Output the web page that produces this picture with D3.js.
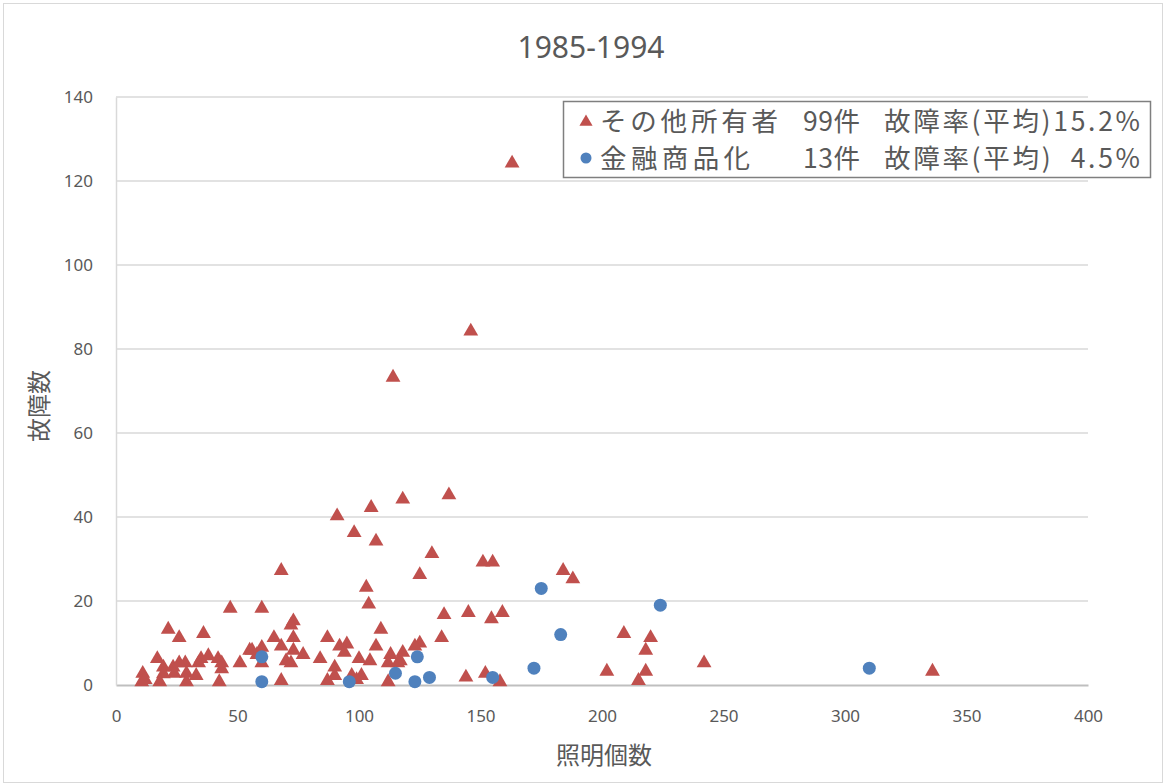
<!DOCTYPE html>
<html>
<head>
<meta charset="utf-8">
<script src="https://cdn.jsdelivr.net/npm/d3@7"></script>
<style>
  body { margin: 0; background: #fff; }
  svg { display: block; font-family: "Noto Sans CJK JP", "Noto Sans", sans-serif; }
</style>
</head>
<body>
<svg id="chart" width="1163" height="783"></svg>
<script>
// その他所有者: [照明個数, 故障数]
const otherOwners = [
  [163, 124], [146, 84], [114, 73], [137, 45], [118, 44], [105, 42], [91, 40], [98, 36],
  [107, 34], [130, 31], [151, 29], [155, 29], [125, 26], [184, 27], [188, 25], [68, 27],
  [103, 23], [104, 19], [47, 18], [60, 18], [145, 17], [135, 16.5], [159, 17], [154.5, 15.5],
  [73, 15], [72, 14], [21.5, 13], [109, 13], [26, 11], [36, 12], [65, 11], [73, 11],
  [87, 11], [134, 11], [209, 12], [220, 11], [95, 9.5], [125, 9.7], [92, 9], [68, 9],
  [107, 9], [123, 9], [94, 7.5], [73, 8], [55, 8], [118, 7.5], [218, 8], [58, 7],
  [77, 7], [113, 7], [84, 6], [70, 5.5], [17, 6], [42, 6], [35, 6], [104.5, 5.5],
  [117, 5.5], [72, 5], [28.5, 5], [34, 5], [43.5, 5], [51, 5], [112, 5], [116, 5],
  [242, 5], [19.5, 4], [23.5, 4], [43.5, 3.6], [90, 4], [38, 6.7], [11, 2.5], [24, 2.5],
  [29, 2.5], [152, 2.5], [202, 3], [218, 3], [336, 3], [33, 2], [90, 2], [19.5, 2.4],
  [97, 2], [101, 2], [144, 1.6], [10.6, 0.5], [18, 0.5], [29, 0.5], [42.5, 0.5], [68, 0.8],
  [87, 0.8], [99, 1], [112, 0.5], [158, 0.5], [215, 0.8], [60, 8.7], [56, 8], [100, 6],
  [60, 5], [26, 5], [12, 1]
]
// 金融商品化: [照明個数, 故障数]
const financial = [
  [60, 6.7], [60, 0.8], [96, 0.8], [115, 2.8], [123, 0.8], [124, 6.7], [129, 1.8],
  [155, 1.8], [172, 4], [175, 23], [183, 12], [224, 19], [310, 4]
]
const xTicks = [0, 50, 100, 150, 200, 250, 300, 350, 400]
const yTicks = [0, 20, 40, 60, 80, 100, 120, 140]
const legendRows = [
  ['その他所有者', '99件', '故障率(平均)15.2%'],
  ['金融商品化', '13件', '故障率(平均)  4.5%']
]

const w = 1163
const h = 783
const padLeft = 116
const padRight = 1088
const padTop = 97
const padBottom = 685
const red = '#C0504D'
const blue = '#4F81BD'
const textColor = '#595959'

const svg = d3.select('#chart')

// outer chart border
svg.append('rect')
  .attr('x', 3.5).attr('y', 3.5)
  .attr('width', w - 4).attr('height', h - 4)
  .attr('fill', 'none')
  .attr('stroke', '#D9D9D9')

const xScale = d3.scaleLinear().domain([0, 400]).range([padLeft, padRight])
const yScale = d3.scaleLinear().domain([0, 140]).range([padBottom, padTop])

// gridlines
svg.append('g')
  .selectAll('line')
  .data(yTicks.filter(t => t > 0))
  .enter()
  .append('line')
  .attr('x1', padLeft).attr('x2', padRight)
  .attr('y1', d => yScale(d)).attr('y2', d => yScale(d))
  .attr('stroke', '#D9D9D9')
  .attr('stroke-width', 1.5)

// axes
const xAxis = d3.axisBottom(xScale).tickValues(xTicks).tickSize(0).tickPadding(25)
const gx = svg.append('g')
  .attr('transform', 'translate(0,' + padBottom + ')')
  .call(xAxis)
gx.select('.domain').attr('stroke', '#BFBFBF').attr('stroke-width', 2)
gx.selectAll('text').attr('fill', textColor).style('font-size', '17px')
  .style('font-family', '"Noto Sans", sans-serif')

const yAxis = d3.axisLeft(yScale).tickValues(yTicks).tickSize(0).tickPadding(23)
const gy = svg.append('g')
  .attr('transform', 'translate(' + padLeft + ',0)')
  .call(yAxis)
gy.select('.domain').attr('stroke', '#D9D9D9').attr('stroke-width', 1.5)
gy.selectAll('text').attr('fill', textColor).style('font-size', '17px')
  .style('font-family', '"Noto Sans", sans-serif')

// marks
const tri = d3.symbol().type(d3.symbolTriangle).size(95)
svg.append('g')
  .selectAll('path')
  .data(otherOwners)
  .enter()
  .append('path')
  .attr('d', tri)
  .attr('transform', d => 'translate(' + xScale(d[0]) + ',' + (yScale(d[1]) - 1) + ')')
  .attr('fill', red)

svg.append('g')
  .selectAll('circle')
  .data(financial)
  .enter()
  .append('circle')
  .attr('cx', d => xScale(d[0]))
  .attr('cy', d => yScale(d[1]))
  .attr('r', 6.5)
  .attr('fill', blue)

// title & axis labels
svg.append('text')
  .attr('x', 591).attr('y', 58)
  .attr('text-anchor', 'middle')
  .attr('fill', textColor)
  .style('font-size', '30px')
  .style('font-family', '"Noto Sans", sans-serif')
  .text('1985-1994')

svg.append('text')
  .attr('x', 604).attr('y', 764)
  .attr('text-anchor', 'middle')
  .attr('fill', textColor)
  .style('font-size', '24px')
  .text('照明個数')

svg.append('text')
  .attr('transform', 'translate(48,406) rotate(-90)')
  .attr('text-anchor', 'middle')
  .attr('fill', textColor)
  .style('font-size', '24px')
  .text('故障数')

// legend
const lg = svg.append('g')
lg.append('rect')
  .attr('x', 563.5).attr('y', 101.5)
  .attr('width', 587).attr('height', 76)
  .attr('fill', '#fff')
  .attr('stroke', '#7F7F7F')
  .attr('stroke-width', 1.5)

lg.append('path')
  .attr('d', d3.symbol().type(d3.symbolTriangle).size(75))
  .attr('transform', 'translate(586,122)')
  .attr('fill', red)
lg.append('circle')
  .attr('cx', 586).attr('cy', 158).attr('r', 5.5)
  .attr('fill', blue)

const colX = [600, 803, 884]
const colW = [[178, 57, 256], [150, 57, 256]]
legendRows.forEach((row, i) => {
  row.forEach((t, j) => {
    lg.append('text')
      .attr('x', colX[j]).attr('y', 131 + i * 37)
      .attr('fill', textColor)
      .style('font-size', '26.5px')
      .attr('xml:space', 'preserve')
      .style('white-space', 'pre')
      .attr('textLength', colW[i][j])
      .attr('lengthAdjust', 'spacing')
      .text(t)
  })
})
</script>
</body>
</html>
